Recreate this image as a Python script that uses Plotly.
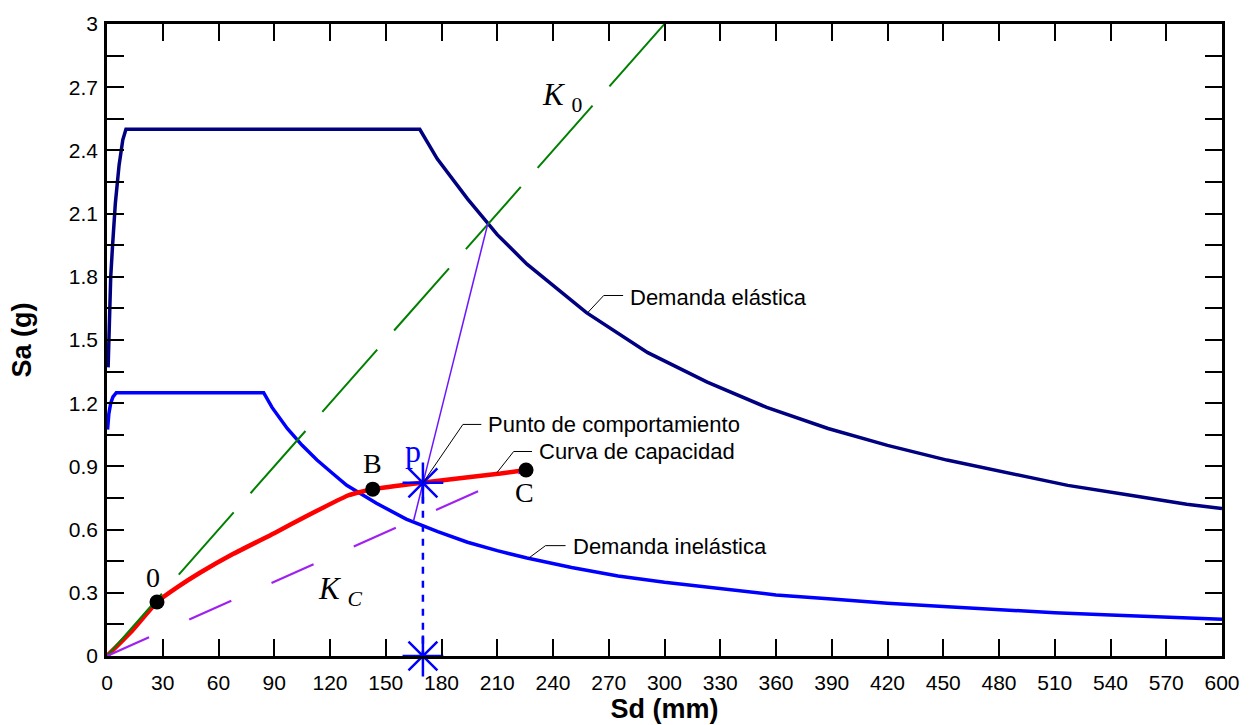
import plotly.graph_objects as go

# ---------------- data ----------------
elastic_sd = [0.6, 1.2, 2.0, 3.0, 4.5, 6.5, 8.5, 10.2, 168.3, 177.7, 194, 210, 226,
              258, 291, 323, 355, 388, 420, 452, 485, 517, 549, 581, 600]
elastic_sa = [1.37, 1.60, 1.80, 1.95, 2.15, 2.33, 2.45, 2.50, 2.50, 2.36, 2.17, 2.00, 1.86,
              1.63, 1.44, 1.30, 1.18, 1.08, 1.00, 0.93, 0.87, 0.81, 0.765, 0.72, 0.70]

inelastic_sd = [0.3, 1.0, 2.0, 3.2, 5.0, 84.3, 88.8, 97, 105, 113, 121, 129, 145, 161, 178,
                194, 210, 226, 250, 275, 300, 330, 360, 390, 420, 450, 480, 510, 540, 570, 600]
inelastic_sa = [1.075, 1.15, 1.20, 1.23, 1.25, 1.25, 1.18, 1.08, 1.00, 0.93, 0.87, 0.81, 0.725,
                0.65, 0.59, 0.54, 0.50, 0.465, 0.42, 0.38, 0.35, 0.32, 0.29, 0.27, 0.25, 0.235,
                0.22, 0.205, 0.195, 0.185, 0.175]

capacity_sd = [0, 12.5, 26.9, 38.5, 50.0, 68.0, 90.0, 108.0, 130.0, 143.0, 170.4, 211.7, 225.5]
capacity_sa = [0, 0.11, 0.256, 0.33, 0.395, 0.485, 0.583, 0.667, 0.763, 0.792, 0.824, 0.866, 0.883]

k0_sd = [0, 300]
k0_sa = [0, 3.0]

kc_sd = [0, 225.5]
kc_sa = [0, 0.883]

link_sd = [165, 205]
link_sa = [0.643, 2.055]

perf_sd = 170.0
perf_sa = 0.822

points_sd = [26.9, 143.0, 225.5]
points_sa = [0.256, 0.792, 0.883]
points_names = ["0", "B", "C"]

x_tick_vals = list(range(0, 601, 30))
x_tick_text = [str(v) for v in x_tick_vals]
y_tick_vals = [0, 0.15, 0.3, 0.45, 0.6, 0.75, 0.9, 1.05, 1.2, 1.35, 1.5, 1.65, 1.8, 1.95,
               2.1, 2.25, 2.4, 2.55, 2.7, 2.85, 3.0]
y_tick_text = ["0", "", "0.3", "", "0.6", "", "0.9", "", "1.2", "", "1.5", "", "1.8", "",
               "2.1", "", "2.4", "", "2.7", "", "3"]

# label positions (data coords)
point_label_pos = [(24.6, 0.375), (143.0, 0.915), (224.6, 0.775)]
p_label_pos = (164.6, 0.975)
k0_label_pos = (245.0, 2.653)
kc_label_pos = (125.6, 0.309)

# callouts: text, anchor on curve, elbow offset px, end offset px, text offset px
callouts = [
    ("Demanda elástica", (258.9, 1.632), (15.6, 16.7), (35.0, 16.7), (40, 15)),
    ("Demanda inelástica", (227.0, 0.465), (16.7, 12.4), (36.7, 12.4), (42, 12)),
    ("Punto de comportamiento", (170.0, 0.822), (40.0, 58.4), (58.4, 58.4), (63, 58)),
    ("Curva de capacidad", (209.9, 0.871), (16.6, 21.0), (35.0, 21.0), (40, 21)),
]

SANS = "Liberation Sans, Arial, sans-serif"
SERIF = "Liberation Serif, Times New Roman, serif"

fig = go.Figure()

fig.add_trace(go.Scatter(x=elastic_sd, y=elastic_sa, mode="lines",
                         line=dict(color="#000080", width=3.5), hoverinfo="skip"))
fig.add_trace(go.Scatter(x=inelastic_sd, y=inelastic_sa, mode="lines",
                         line=dict(color="#0000FF", width=3.5), hoverinfo="skip"))
fig.add_trace(go.Scatter(x=capacity_sd, y=capacity_sa, mode="lines",
                         line=dict(color="#FF0000", width=4.5, shape="spline", smoothing=0.4),
                         hoverinfo="skip"))
fig.add_trace(go.Scatter(x=k0_sd, y=k0_sa, mode="lines",
                         line=dict(color="#008000", width=2, dash="83px,25.5px"), hoverinfo="skip"))
fig.add_trace(go.Scatter(x=kc_sd, y=kc_sa, mode="lines",
                         line=dict(color="#A020F0", width=2.2, dash="46px,44px"), hoverinfo="skip"))
fig.add_trace(go.Scatter(x=link_sd, y=link_sa, mode="lines",
                         line=dict(color="#6A14FF", width=1.5), hoverinfo="skip"))
fig.add_trace(go.Scatter(x=[perf_sd, perf_sd], y=[perf_sa, 0], mode="lines",
                         line=dict(color="#0000FF", width=2.5, dash="7px,7px"), hoverinfo="skip"))
fig.add_trace(go.Scatter(x=[perf_sd, perf_sd], y=[perf_sa, 0], mode="markers",
                         marker=dict(symbol="asterisk-open", size=34, color="#0000FF",
                                     line=dict(color="#0000FF", width=2.5)),
                         cliponaxis=False, hoverinfo="skip"))
fig.add_trace(go.Scatter(x=points_sd, y=points_sa, mode="markers",
                         marker=dict(color="black", size=15), hoverinfo="skip"))

annotations = []
shapes = []
for name, (lx, ly) in zip(points_names, point_label_pos):
    annotations.append(dict(x=lx, y=ly, text=name, showarrow=False,
                            font=dict(family=SERIF, size=28, color="black")))
annotations.append(dict(x=p_label_pos[0], y=p_label_pos[1], text="p", showarrow=False,
                        font=dict(family=SERIF, size=32, color="#0000FF")))
annotations.append(dict(x=k0_label_pos[0], y=k0_label_pos[1], text="<i>K</i> <sub>0</sub>",
                        showarrow=False, font=dict(family=SERIF, size=31, color="black")))
annotations.append(dict(x=kc_label_pos[0], y=kc_label_pos[1], text="<i>K</i> <sub><i>C</i></sub>",
                        showarrow=False, font=dict(family=SERIF, size=31, color="black")))

for text, (ax_, ay_), (ex, ey), (fx, fy), (tx, ty) in callouts:
    shapes.append(dict(type="path", xref="x", yref="y", xsizemode="pixel", ysizemode="pixel",
                       xanchor=ax_, yanchor=ay_,
                       path=f"M0,0 L{ex},{ey} L{fx},{fy}",
                       line=dict(color="black", width=1)))
    annotations.append(dict(x=ax_, y=ay_, text=text, showarrow=False, xanchor="left",
                            yanchor="middle", xshift=tx, yshift=ty,
                            font=dict(family=SANS, size=22, color="black")))

axis_common = dict(showline=True, linecolor="black", linewidth=2.5, mirror="ticks",
                   ticks="inside", ticklen=17, tickwidth=1.8, tickcolor="black",
                   showgrid=False, zeroline=False,
                   tickfont=dict(family=SANS, size=21, color="black"))

fig.update_layout(
    width=1253, height=725, autosize=False,
    margin=dict(l=107, r=31, t=19, b=68),
    paper_bgcolor="white", plot_bgcolor="white",
    showlegend=False,
    xaxis=dict(range=[0, 600], tickmode="array", tickvals=x_tick_vals, ticktext=x_tick_text,
               ticklabelstandoff=6,
               title=dict(text="<b>Sd (mm)</b>", font=dict(family=SANS, size=27, color="black"),
                          standoff=0),
               **axis_common),
    yaxis=dict(range=[0, 3], tickmode="array", tickvals=y_tick_vals, ticktext=y_tick_text,
               ticklabelstandoff=2,
               title=dict(text="<b>Sa (g)</b>", font=dict(family=SANS, size=27, color="black"),
                          standoff=30),
               **axis_common),
    annotations=annotations,
    shapes=shapes,
)

fig.write_html("out.html")
